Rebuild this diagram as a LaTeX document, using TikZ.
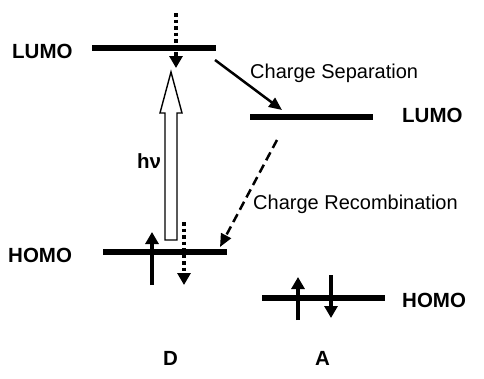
\documentclass[tikz,border=0pt]{standalone}
\usepackage{fontspec}
\setmainfont{Liberation Sans}
\usetikzlibrary{arrows.meta}
\begin{document}
\begin{tikzpicture}[x=1pt,y=-1pt,
  level/.style={line width=5.5pt},
  spin/.style={line width=4.8pt,-{Triangle[length=12pt,width=13pt]}},
  dotspin/.style={line width=4pt,dash pattern=on 3.5pt off 3pt},
  lab/.style={font=\fontsize{20.5}{24}\selectfont\bfseries,inner sep=0pt,anchor=base west},
  txt/.style={font=\fontsize{20}{24}\selectfont,inner sep=0pt,anchor=base west},
  trans/.style={line width=2.5pt,-{Triangle[length=13pt,width=11pt]}}]
\useasboundingbox (0,0) rectangle (484,378);
% levels
\coordinate (dl1) at (92,48); \coordinate (dl2) at (216,48);
\coordinate (dh1) at (103,252); \coordinate (dh2) at (227,252);
\coordinate (al1) at (250,117); \coordinate (al2) at (373,117);
\coordinate (ah1) at (262,298); \coordinate (ah2) at (385,298);
\draw[level] (dl1) -- (dl2);
\draw[level] (dh1) -- (dh2);
\draw[level] (al1) -- (al2);
\draw[level] (ah1) -- (ah2);
% labels
\node[lab] (tlumoD) at (12,58) {LUMO};
\node[lab] (thomoD) at (8,262) {HOMO};
\node[lab] (tlumoA) at (402,122) {LUMO};
\node[lab] (thomoA) at (402,307) {HOMO};
\node[lab] (tD) at (163,365) {D};
\node[lab] (tA) at (315,365) {A};
\node[lab] (thv) at (137,168) {hν};
\node[txt] (tcs) at (250,78) {Charge Separation};
\node[txt] (tcr) at (253,209) {Charge Recombination};
% hollow excitation arrow
\draw[line width=1.4pt,fill=white,line join=miter]
  (165,240) -- (165,113) -- (160,113) -- (171,72) -- (182,113) -- (177,113) -- (177,240) -- cycle;
% dotted electron arrow at D LUMO
\coordinate (e1a) at (176,13); \coordinate (e1b) at (176,57); \coordinate (e1t) at (176,68);
\draw[dotspin] (e1a) -- (e1b);
\draw[spin] (e1b) -- (e1t);
% D HOMO spins
\coordinate (s1a) at (152,285); \coordinate (s1t) at (152,232);
\draw[spin] (s1a) -- (s1t);
\coordinate (s2a) at (184,222); \coordinate (s2b) at (184,274); \coordinate (s2t) at (184,285);
\draw[dotspin] (s2a) -- (s2b);
\draw[spin] (s2b) -- (s2t);
% A HOMO spins
\coordinate (s3a) at (298,320); \coordinate (s3t) at (298,277);
\draw[spin] (s3a) -- (s3t);
\coordinate (s4a) at (331,275); \coordinate (s4t) at (331,318);
\draw[spin] (s4a) -- (s4t);
% transfer arrows
\coordinate (cs1) at (215,60); \coordinate (cs2) at (282,110);
\draw[trans] (cs1) -- (cs2);
\coordinate (cr1) at (277,140); \coordinate (cr2) at (220,247);
\draw[trans,dash pattern=on 9pt off 5pt] (cr1) -- (cr2);
\end{tikzpicture}
\end{document}
